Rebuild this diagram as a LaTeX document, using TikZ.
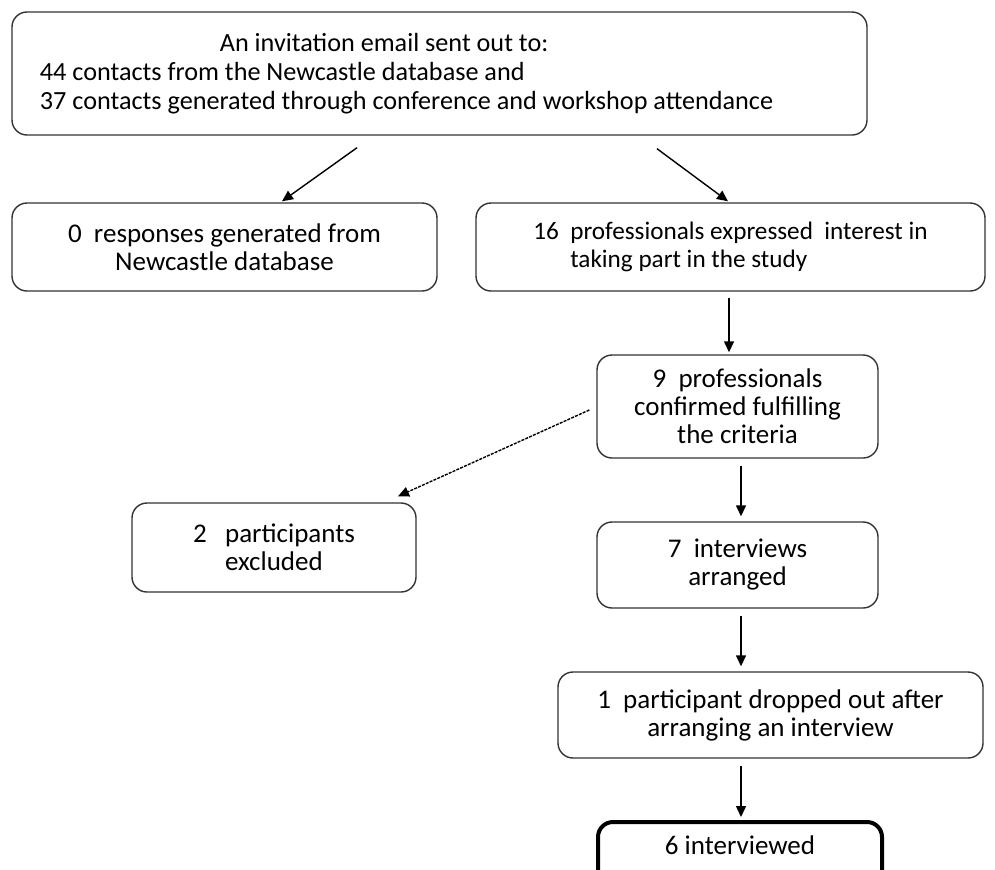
\documentclass[tikz,border=0pt]{standalone}
\usepackage{fontspec}
\setmainfont{Carlito}
\usepackage{tikz}
\usetikzlibrary{arrows.meta,positioning,calc}

\begin{document}
\begin{tikzpicture}[x=0.5pt, y=-0.5pt, font=\fontsize{13.5}{14}\selectfont,
    box/.style={draw=black!80, line width=0.7pt, rounded corners=7.5pt, align=center},
    small/.style={font=\fontsize{12.6}{14}\selectfont},
    arr/.style={-{Triangle[length=5.5pt,width=5pt]}, line width=0.7pt}]
    \clip (0,0) rectangle (995,869);
    \useasboundingbox (0,0) rectangle (995,869);

    % Invitation
    \node[box, font=\fontsize{13.1}{14.5}\selectfont, align=left, minimum width=427.5pt, minimum height=61.5pt] (invite) at (439.5,73.5)
        {\hspace*{90pt}An invitation email sent out to:\\
         44 contacts from the Newcastle database and\\
         37 contacts generated through conference and workshop attendance\hspace*{33pt}};

    % Responses
    \node[box, minimum width=212.5pt, minimum height=44pt] (none) at (224.5,247)
        {0~~responses generated from\\Newcastle database};
    \node[box, small, align=left, minimum width=254.5pt, minimum height=44pt] (interest) at (730.5,247)
        {16~~professionals expressed~~interest in\\\phantom{16~~}taking part in the study};
    \draw[arr] ([shift={(-82.5,12)}]invite.south) -- ([shift={(57.5,-1)}]none.north);
    \draw[arr] ([shift={(217.5,13)}]invite.south) -- ([shift={(-2.5,-1)}]interest.north);

    % Criteria
    \node[box, minimum width=140.5pt, minimum height=51.5pt] (criteria) at (737.5,406.5)
        {9~~professionals\\confirmed fulfilling\\the criteria};
    \draw[arr] ([shift={(-1.5,6)}]interest.south) -- ([shift={(-8.5,-2)}]criteria.north);

    \node[box, align=left, minimum width=142pt, minimum height=44.5pt] (excluded) at (274,547.5)
        {2~~~participants\\\phantom{2~~~}excluded};
    \draw[arr, dash pattern=on 1.5pt off 0.6pt] ([shift={(-7,3.5)}]criteria.west) -- ([shift={(124,-6)}]excluded.north);

    % Interviews
    \node[box, minimum width=140.5pt, minimum height=43pt] (arranged) at (737.5,565)
        {7~~interviews\\arranged};
    \draw[arr] ([shift={(3.5,7)}]criteria.south) -- ([shift={(3.5,-5)}]arranged.north);

    \node[box, minimum width=212.5pt, minimum height=43pt] (dropped) at (770.5,715)
        {1~~participant dropped out after\\arranging an interview};
    \draw[arr] ([shift={(3.5,7)}]arranged.south) -- ([shift={(-29.5,-5)}]dropped.north);

    \node[box, line width=2pt, draw=black, minimum width=142pt, minimum height=41pt] (done) at (740,863)
        {6 interviewed\\\strut};
    \draw[arr] ([shift={(-29.5,7)}]dropped.south) -- ([shift={(1,-3)}]done.north);
\end{tikzpicture}
\end{document}
